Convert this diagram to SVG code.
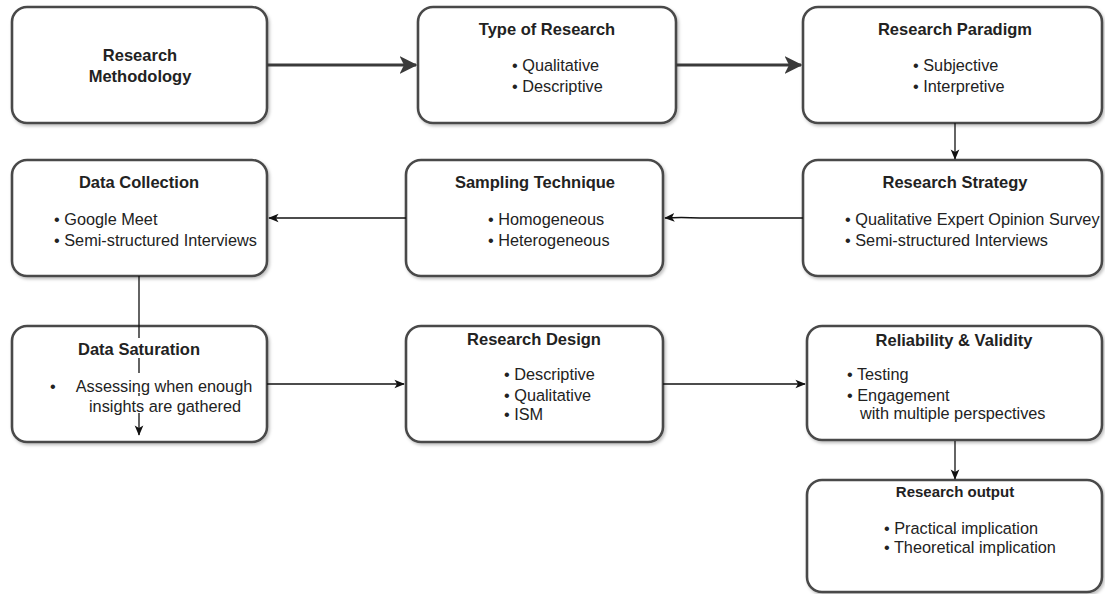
<svg xmlns="http://www.w3.org/2000/svg" width="1105" height="594" viewBox="0 0 1105 594">
  <style>
    .box { fill: #ffffff; stroke: #4a4a4a; stroke-width: 2.6; filter: url(#shadow); }
    .title { font-family: "Liberation Sans", Arial, sans-serif; font-weight: bold; font-size: 16.5px; fill: #222; text-anchor: middle; }
    .item { font-family: "Liberation Sans", Arial, sans-serif; font-size: 16.3px; fill: #222; }
    .thick { fill: none; stroke: #3a3a3a; stroke-width: 3; }
    .thin { fill: none; stroke: #111; stroke-width: 1.3; }
  </style>
  <defs>
    <filter id="shadow" x="-10%" y="-10%" width="125%" height="130%">
      <feDropShadow dx="1.5" dy="2" stdDeviation="1.5" flood-color="#000" flood-opacity="0.25"/>
    </filter>
    <marker id="headBig" viewBox="0 0 12 12" refX="11" refY="6" markerWidth="6" markerHeight="6" markerUnits="strokeWidth" orient="auto">
      <path d="M0,0 L12,6 L0,12 L3,6 Z" fill="#3a3a3a"/>
    </marker>
    <marker id="head" viewBox="0 0 12 12" refX="11" refY="6" markerWidth="8" markerHeight="8" markerUnits="strokeWidth" orient="auto">
      <path d="M0,1 L12,6 L0,11 L3,6 Z" fill="#111"/>
    </marker>
  </defs>

  <g id="research-methodology">
    <rect class="box" x="12" y="7" width="255" height="116" rx="15"/>
    <text class="title" x="140" y="61">Research</text>
    <text class="title" x="140" y="82">Methodology</text>
  </g>

  <g id="type-of-research">
    <rect class="box" x="418" y="7" width="258" height="116" rx="15"/>
    <text class="title" x="547" y="35">Type of Research</text>
    <text class="item" x="512" y="71">• Qualitative</text>
    <text class="item" x="512" y="92">•  Descriptive</text>
  </g>

  <g id="research-paradigm">
    <rect class="box" x="803" y="7" width="299" height="116" rx="15"/>
    <text class="title" x="955" y="35">Research Paradigm</text>
    <text class="item" x="913" y="71">• Subjective</text>
    <text class="item" x="913" y="92">• Interpretive</text>
  </g>

  <g id="data-collection">
    <rect class="box" x="12" y="160" width="255" height="116" rx="15"/>
    <text class="title" x="139" y="188">Data Collection</text>
    <text class="item" x="54" y="225">• Google Meet</text>
    <text class="item" x="54" y="246">• Semi-structured Interviews</text>
  </g>

  <g id="sampling-technique">
    <rect class="box" x="406" y="160" width="257" height="116" rx="15"/>
    <text class="title" x="535" y="188">Sampling Technique</text>
    <text class="item" x="488" y="225">• Homogeneous</text>
    <text class="item" x="488" y="246">• Heterogeneous</text>
  </g>

  <g id="research-strategy">
    <rect class="box" x="803" y="160" width="299" height="116" rx="15"/>
    <text class="title" x="955" y="188">Research Strategy</text>
    <text class="item" x="845" y="225">• Qualitative Expert Opinion Survey</text>
    <text class="item" x="845" y="246">• Semi-structured Interviews</text>
  </g>

  <g id="data-saturation">
    <rect class="box" x="12" y="326" width="255" height="116" rx="15"/>
    <text class="title" x="139" y="355">Data Saturation</text>
    <text class="item" x="50" y="392">•</text>
    <text class="item" x="164" y="392" text-anchor="middle">Assessing when enough</text>
    <text class="item" x="165" y="412" text-anchor="middle">insights are gathered</text>
  </g>

  <g id="research-design">
    <rect class="box" x="406" y="326" width="257" height="116" rx="15"/>
    <text class="title" x="534" y="345">Research Design</text>
    <text class="item" x="504" y="380">• Descriptive</text>
    <text class="item" x="504" y="401">• Qualitative</text>
    <text class="item" x="504" y="420">• ISM</text>
  </g>

  <g id="reliability-validity">
    <rect class="box" x="807" y="326" width="295" height="114" rx="15"/>
    <text class="title" x="954" y="346">Reliability &amp; Validity</text>
    <text class="item" x="847" y="380">• Testing</text>
    <text class="item" x="847" y="401">• Engagement</text>
    <text class="item" x="860" y="419">with multiple perspectives</text>
  </g>

  <g id="research-output">
    <rect class="box" x="807" y="480" width="295" height="112" rx="15"/>
    <text class="title" x="955" y="497" style="font-size:15px">Research output</text>
    <text class="item" x="884" y="534">• Practical implication</text>
    <text class="item" x="884" y="553">• Theoretical implication</text>
  </g>

  <!-- connectors, drawn last so the saturation line shows across its box -->
  <g id="connectors">
    <path class="thick" d="M267,65 L416,65" marker-end="url(#headBig)"/>
    <path class="thick" d="M676,65 L801,65" marker-end="url(#headBig)"/>
    <path class="thin" d="M955,123 L955,159" marker-end="url(#head)"/>
    <path class="thin" d="M803,218 L700,218 Q680,217 665,218" marker-end="url(#head)"/>
    <path class="thin" d="M406,218 L269,218" marker-end="url(#head)"/>
    <path class="thin" d="M139,276 L139,338 M139,358 L139,373 M139,393 L139,396 M139,413 L139,435" marker-end="url(#head)"/>
    <path class="thin" d="M267,384 L404,384" marker-end="url(#head)"/>
    <path class="thin" d="M663,384 L805,384" marker-end="url(#head)"/>
    <path class="thin" d="M955,441 L955,479" marker-end="url(#head)"/>
  </g>
</svg>
